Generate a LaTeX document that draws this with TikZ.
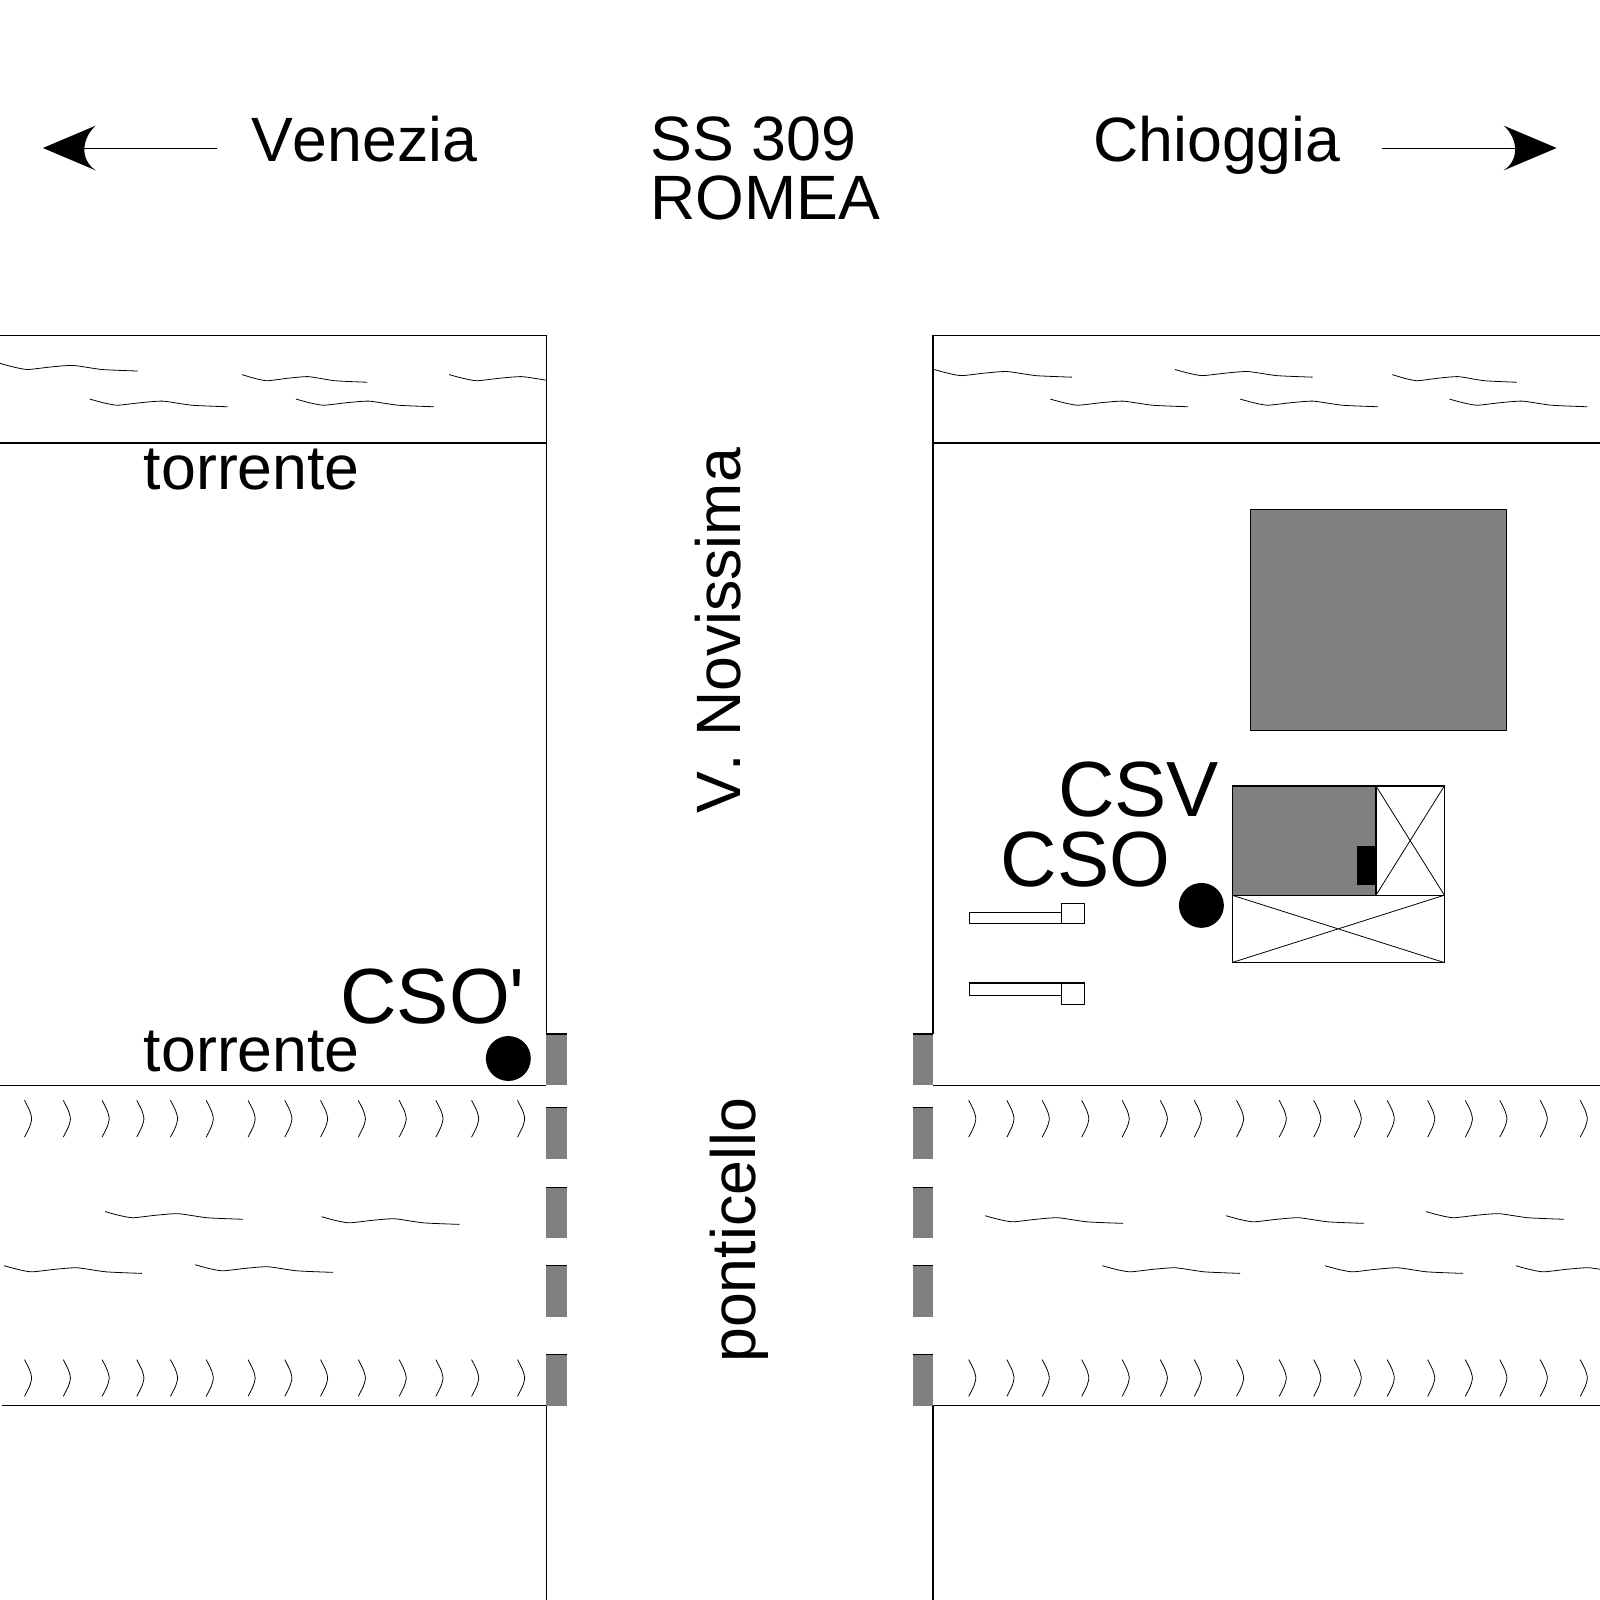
\documentclass[tikz,border=0pt]{standalone}
\usepackage{fontspec}
\newfontfamily\plainsans[Kerning=Off]{Liberation Sans}
\newcommand{\wvlen}[3]{\draw[wavy] plot[smooth,tension=0.35] coordinates {(#1,#2) ({#1+0.096*#3},{#2+3.5}) ({#1+0.2*#3},{#2+6}) ({#1+0.37*#3},{#2+3.5}) ({#1+0.53*#3},{#2+2}) ({#1+0.74*#3},{#2+6}) ({#1+#3},{#2+7.5})};}
\newcommand{\wv}[2]{\wvlen{#1}{#2}{135}}
\newcommand{\chv}[2]{\draw[wavy] plot[smooth,tension=0.4] coordinates {(#1,#2) ({#1+5},{#2+10}) ({#1+7},{#2+18}) ({#1+5},{#2+26}) (#1,{#2+36})};}
\definecolor{gray50}{gray}{0.5}
\tikzset{
  x=0.01cm,y=-0.01cm,
  thinl/.style={line width=0.3pt,black},
  wavy/.style={line width=0.22pt,black},
  lbl/.style={inner sep=0pt,outer sep=0pt,anchor=base west,font=\plainsans\fontsize{17.45pt}{20pt}\selectfont},
  biglbl/.style={inner sep=0pt,outer sep=0pt,anchor=base west,font=\plainsans\fontsize{21.8pt}{24pt}\selectfont},
  bridge/.style={fill=gray50,draw=none},
  bldg/.style={fill=gray50,draw=black,line width=0.3pt},
}
\begin{document}
\begin{tikzpicture}
\path[use as bounding box,fill=white] (0,0) rectangle (1567.5,1567.5);
% torrent banks
\draw[thinl] (0,329) -- (535,329) -- (535,1013);
\draw[thinl] (0,434) -- (535,434);
\draw[thinl] (0,1063) -- (535,1063);
\draw[thinl] (2,1377) -- (535,1377) -- (535,1567.5);
\draw[thinl] (1567.5,329) -- (914,329) -- (914,1013);
\draw[thinl] (914,434) -- (1567.5,434);
\draw[thinl] (914,1063) -- (1567.5,1063);
\draw[thinl] (1567.5,1377) -- (914,1377) -- (914,1567.5);
% bridge piers
\foreach \t/\b in {1013/1063,1085/1135,1163/1213,1240/1290,1327/1377}{
  \fill[bridge] (535,\t) rectangle (555,\b);
  \draw[thinl] (535,\t) -- (555,\t);
  \fill[bridge] (894,\t) rectangle (914,\b);
  \draw[thinl] (894,\t) -- (914,\t);
}
% water
\begin{scope}
\clip (0,329) rectangle (535,434);
\wv{0}{356}\wvlen{237}{367}{123}\wv{440}{367}\wv{88}{391}\wv{290}{391}
\end{scope}
\begin{scope}
\clip (914,329) rectangle (1567.5,434);
\wv{915}{362}\wv{1151}{362}\wvlen{1364}{367}{122}\wv{1029}{391}\wv{1215}{391}\wv{1420}{391}
\end{scope}
\wv{103}{1187}\wv{315}{1192}\wv{4}{1240}\wv{191}{1239}
\wv{965}{1191}\wv{1201}{1191}\wv{1397}{1187}\wv{1080}{1240}\wv{1298}{1240}
\begin{scope}
\clip (1400,1200) rectangle (1567.5,1300);
\wv{1485}{1240}
\end{scope}
% chevrons
\foreach \x in {24,62,100,134,167,202,243,279,314,351,391,427,462,507}{
  \chv{\x}{1078}\chv{\x}{1332}
}
\foreach \x in {949,986.4,1021,1059.7,1099.3,1136.7,1170,1211.4,1253.2,1287,1326.6,1359,1398.6,1435.5,1469.3,1508.9,1548.1}{
  \chv{\x}{1078}\chv{\x}{1332}
}
% buildings
\draw[bldg] (1225,499) rectangle (1476,716);
\draw[bldg] (1207,770) rectangle (1348,877);
\fill[black] (1329,829) rectangle (1348,867);
\draw[thinl,fill=white] (1348,770) rectangle (1415,877);
\draw[wavy] (1348,770) -- (1415,877) (1348,877) -- (1415,770);
\draw[thinl,fill=white] (1207,877) rectangle (1415,943);
\draw[wavy] (1207,877) -- (1415,943) (1207,943) -- (1415,877);
\draw[thinl] (950,894) rectangle (1040,905);
\draw[thinl] (1040,885) rectangle (1062,905);
\draw[thinl] (950,963) rectangle (1040,975);
\draw[thinl] (1040,963) rectangle (1062,984);
\fill[black] (1177,887) circle (22);
\fill[black] (498,1037) circle (22);
% arrows
\coordinate (vs) at (213,145);
\coordinate (ve) at (80,145);
\coordinate (cs) at (1354,145);
\coordinate (ce) at (1487,145);
\draw[wavy] (vs) -- (ve);
\draw[wavy] (cs) -- (ce);
\fill[black] (42,145) -- (94,123) .. controls (82,133) and (76,155) .. (94,167) -- cycle;
\fill[black] (1525,145) -- (1473,123) .. controls (1485,133) and (1491,155) .. (1473,167) -- cycle;
% labels
\node[lbl] (venezia) at (246,158) {Venezia};
\node[lbl] (ss) at (637.5,157.5) {SS 309};
\node[lbl] (romea) at (637.5,215.5) {ROMEA};
\node[lbl] (chioggia) at (1071,158) {Chioggia};
\node[lbl] (torr1) at (141,479.5) {torrente};
\node[lbl] (torr2) at (141,1049.5) {torrente};
\node[lbl,rotate=90] (novissima) at (725,797) {V. Novissima};
\node[lbl,rotate=90] (ponticello) at (740,1335) {ponticello};
\node[biglbl] (csv) at (1036.5,800) {CSV};
\node[biglbl] (cso) at (980.5,868) {CSO};
\node[biglbl] (csop) at (333.5,1003) {CSO'};
\end{tikzpicture}
\end{document}
